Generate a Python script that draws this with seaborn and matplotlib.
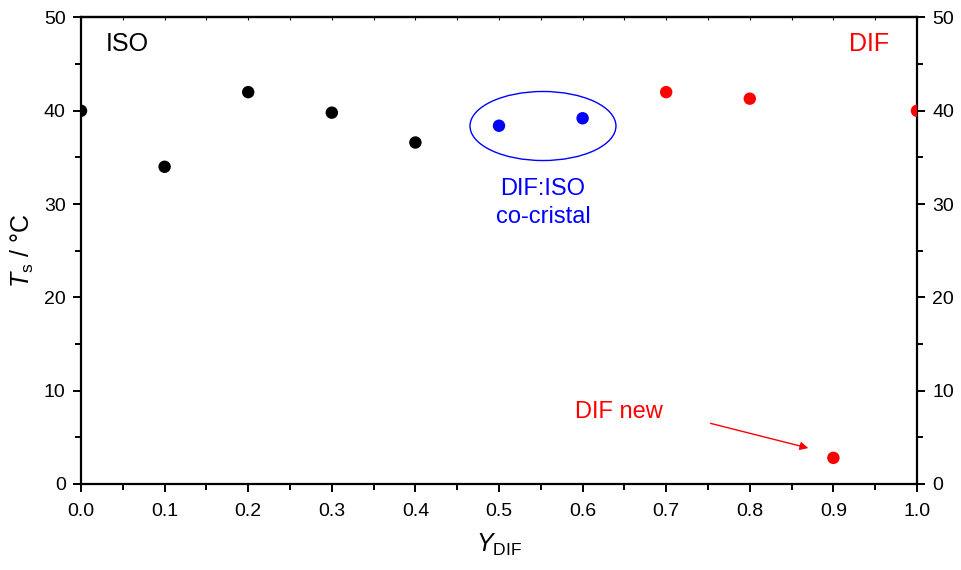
import matplotlib
matplotlib.use("Agg")
import matplotlib.pyplot as plt
from matplotlib.patches import Ellipse
import seaborn as sns
import pandas as pd

# Mass fraction of DIF and the measured temperature
y_dif = [0.0, 0.1, 0.2, 0.3, 0.4, 0.5, 0.6, 0.7, 0.8, 0.9, 1.0]
t_s = [40.0, 34.0, 42.0, 39.8, 36.6, 38.4, 39.2, 42.0, 41.3, 2.8, 40.0]
phase = ["ISO", "ISO", "ISO", "ISO", "ISO", "co", "co", "DIF", "DIF", "DIF", "DIF"]
phase_colors = {"ISO": "black", "co": "blue", "DIF": "red"}

x_ticks = [0.0, 0.1, 0.2, 0.3, 0.4, 0.5, 0.6, 0.7, 0.8, 0.9, 1.0]
y_ticks = [0, 10, 20, 30, 40, 50]

sns.set_theme(style="white")
plt.rcParams["font.family"] = ["Liberation Sans", "DejaVu Sans"]
plt.rcParams["mathtext.fontset"] = "custom"
plt.rcParams["mathtext.rm"] = "Liberation Sans"
plt.rcParams["mathtext.it"] = "Liberation Sans:italic"

df = pd.DataFrame({"Y": y_dif, "T": t_s, "phase": phase})

fig = plt.figure(figsize=(9.61, 5.70), dpi=100)
ax = fig.add_axes([0.0843, 0.1509, 0.8699, 0.8184])

sns.scatterplot(data=df, x="Y", y="T", hue="phase", palette=phase_colors,
                s=80, edgecolor="none", legend=False, ax=ax, zorder=3)

ax.set_xlim(0, 1)
ax.set_ylim(0, 50)
ax.set_xticks(x_ticks)
ax.set_xticklabels([f"{v:.1f}" for v in x_ticks])
ax.set_yticks(y_ticks)
ax.set_xticks([0.05 + 0.1 * i for i in range(10)], minor=True)
ax.set_yticks([5, 15, 25, 35, 45], minor=True)

for side in ["left", "right", "top", "bottom"]:
    ax.spines[side].set_visible(True)
    ax.spines[side].set_color("black")
    ax.spines[side].set_linewidth(1.6)

ax.tick_params(axis="y", which="both", direction="out", left=True, right=True,
               labelleft=True, labelright=True, labelsize=14, colors="black",
               pad=5)
ax.tick_params(axis="y", which="major", length=6, width=1.4)
ax.tick_params(axis="y", which="minor", length=4, width=1.4)
ax.tick_params(axis="x", which="both", direction="out", bottom=True, top=False,
               labelsize=14, colors="black", pad=8)
ax.tick_params(axis="x", which="major", length=6, width=1.4)
ax.tick_params(axis="x", which="minor", length=4, width=1.4)

top = ax.secondary_xaxis("top")
top.set_xticks(x_ticks)
top.set_xticks([0.05 + 0.1 * i for i in range(10)], minor=True)
top.tick_params(which="both", direction="in", length=2, width=0.8,
                labeltop=False, colors="black")
top.spines["top"].set_linewidth(1.6)

ax.set_xlabel(r"$\mathit{Y}_{\rm DIF}$", fontsize=18, color="black", labelpad=8)
ax.set_ylabel(r"$\mathit{T}_{\rm s}$ / °C", fontsize=18, color="black", labelpad=6)

ax.text(0.03, 47.2, "ISO", fontsize=18, color="black", ha="left", va="center")
ax.text(0.943, 47.2, "DIF", fontsize=18, color="red", ha="center", va="center")

ax.add_patch(Ellipse((0.5526, 38.37), 0.1746, 7.4, fill=False,
                     edgecolor="blue", linewidth=1.0, zorder=2))
ax.text(0.5526, 31.6, "DIF:ISO", fontsize=17, color="blue", ha="center", va="center")
ax.text(0.5526, 28.6, "co-cristal", fontsize=17, color="blue", ha="center", va="center")

ax.text(0.591, 7.7, "DIF new", fontsize=17, color="red", ha="left", va="center")
ax.annotate("", xy=(0.870, 3.85), xytext=(0.753, 6.5),
            arrowprops=dict(arrowstyle="-|>", color="red", lw=1.0,
                            mutation_scale=12, shrinkA=0, shrinkB=0))

fig.savefig("out.png", dpi=100)
